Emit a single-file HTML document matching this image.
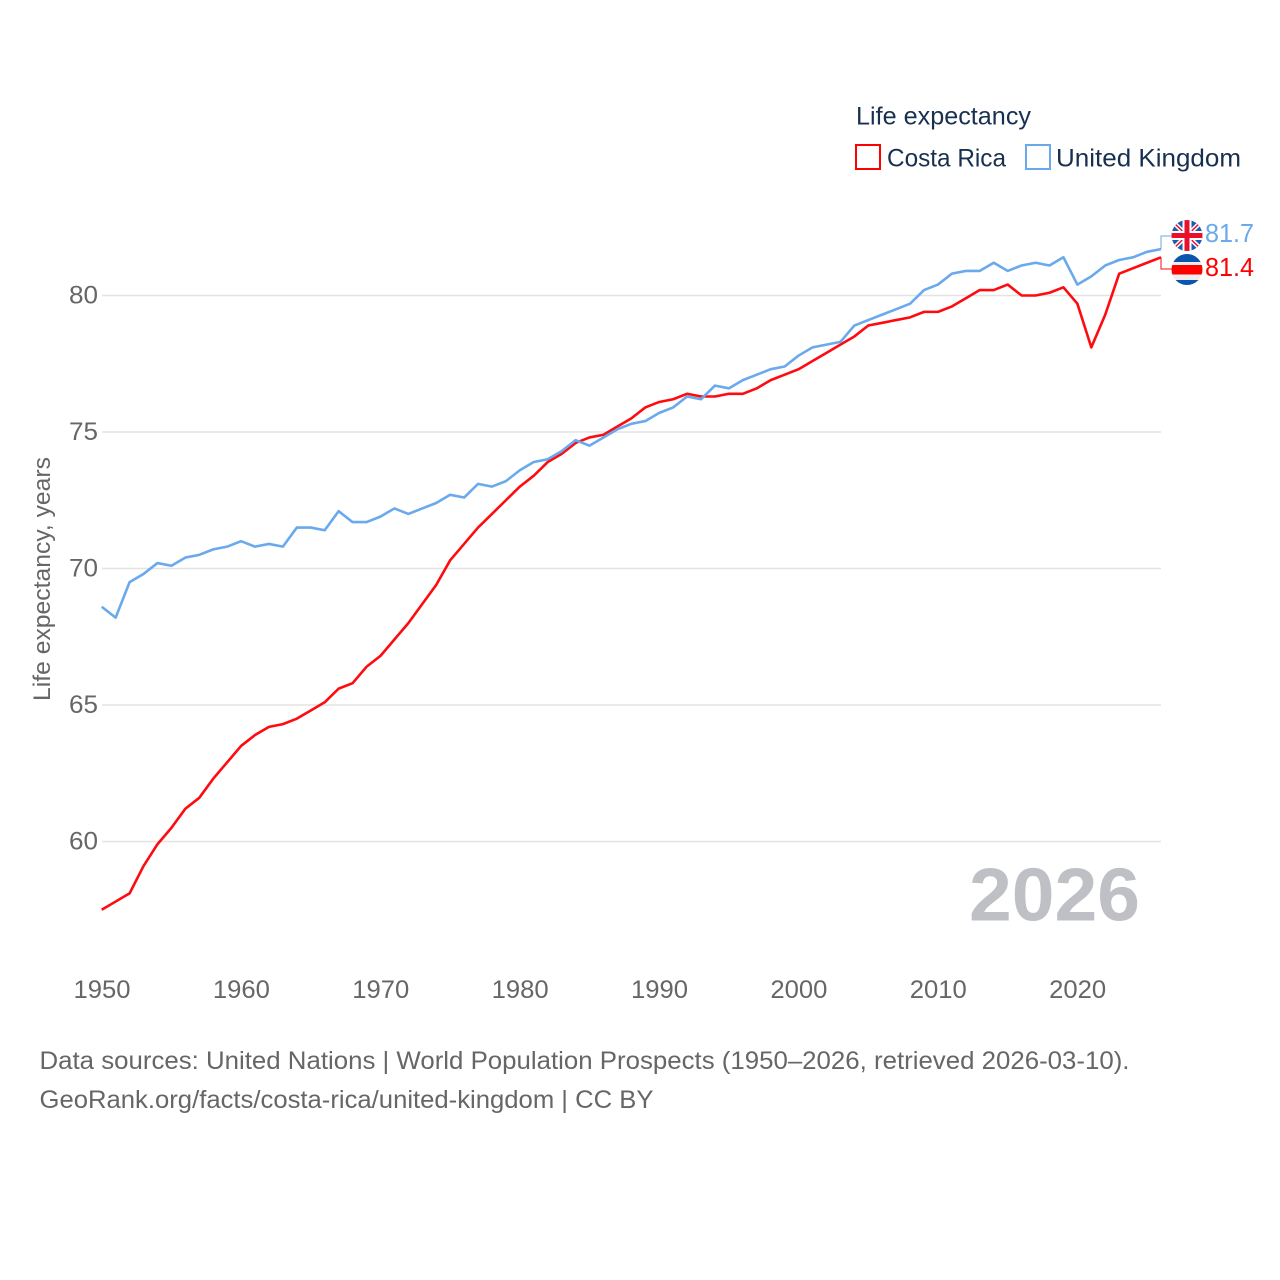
<!DOCTYPE html>
<html lang="en">
<head>
<meta charset="utf-8">
<title>Life expectancy: Costa Rica and United Kingdom</title>
<style>
html,body{margin:0;padding:0;background:#fff;width:1280px;height:1280px;overflow:hidden}
svg{display:block}
text{font-family:"Liberation Sans",sans-serif}
</style>
</head>
<body>
<svg id="chart" width="1280" height="1280" viewBox="0 0 1280 1280" xmlns="http://www.w3.org/2000/svg">
  <defs>
    <clipPath id="clip-uk"><circle cx="1187" cy="235.5" r="15.5"/></clipPath>
    <clipPath id="clip-cr"><circle cx="1187" cy="269.5" r="15.5"/></clipPath>
  </defs>
  <g id="grid"></g>
  <g id="yticks"></g>
  <g id="xticks"></g>
  <text transform="translate(50,701) rotate(-90)" font-size="24.5" fill="#666" textLength="244" lengthAdjust="spacingAndGlyphs">Life expectancy, years</text>

  <text x="1140" y="920.5" text-anchor="end" font-size="75" font-weight="700" fill="#bfc0c5" textLength="171" lengthAdjust="spacingAndGlyphs">2026</text>

  <g id="series"></g>

  <g>
    <text x="856" y="124.500" font-size="25" fill="#18304f" textLength="175" lengthAdjust="spacingAndGlyphs">Life expectancy</text>
    <rect x="856" y="145" width="24" height="24" fill="#fff" stroke="#ff0000" stroke-width="2"/>
    <text x="887" y="166.500" font-size="25" fill="#18304f" textLength="119" lengthAdjust="spacingAndGlyphs">Costa Rica</text>
    <rect x="1026" y="145" width="24" height="24" fill="#fff" stroke="#6aa9ec" stroke-width="2"/>
    <text x="1056" y="166.500" font-size="25" fill="#18304f" textLength="185" lengthAdjust="spacingAndGlyphs">United Kingdom</text>
  </g>

  <g id="connectors"></g>

  <g clip-path="url(#clip-uk)">
    <rect x="1171" y="220" width="32" height="31" fill="#1a5cb0"/>
    <path d="M1171 220L1203 251M1203 220L1171 251" stroke="#fff" stroke-width="4.500"/>
    <path d="M1171 220L1203 251M1203 220L1171 251" stroke="#e8112d" stroke-width="1.500"/>
    <path d="M1187 220V251M1171 235.500H1203" stroke="#fff" stroke-width="9"/>
    <path d="M1187 220V251M1171 235.500H1203" stroke="#e8112d" stroke-width="5"/>
  </g>
  <g clip-path="url(#clip-cr)">
    <rect x="1171" y="254" width="32" height="8" fill="#0a55ad"/>
    <rect x="1171" y="262" width="32" height="3" fill="#eeeeee"/>
    <rect x="1171" y="265" width="32" height="9.500" fill="#ff0000"/>
    <rect x="1171" y="274.500" width="32" height="5.500" fill="#eeeeee"/>
    <rect x="1171" y="280" width="32" height="5" fill="#0a55ad"/>
  </g>

  <text x="1205" y="242" font-size="25.500" fill="#6aa9ec" textLength="49" lengthAdjust="spacingAndGlyphs">81.7</text>
  <text x="1205" y="276" font-size="25.500" fill="#ff0000" textLength="49" lengthAdjust="spacingAndGlyphs">81.4</text>

  <text x="39.500" y="1069" font-size="25" fill="#666" textLength="1090" lengthAdjust="spacingAndGlyphs">Data sources: United Nations | World Population Prospects (1950–2026, retrieved 2026-03-10).</text>
  <text x="39.500" y="1108" font-size="25" fill="#666" textLength="614" lengthAdjust="spacingAndGlyphs">GeoRank.org/facts/costa-rica/united-kingdom | CC BY</text>
</svg>
<script>
const startYear = 1950;
const costaRica = [57.5,57.8,58.1,59.1,59.9,60.5,61.2,61.6,62.3,62.9,63.5,63.9,64.2,64.3,64.5,64.8,65.1,65.6,65.8,66.4,66.8,67.4,68.0,68.7,69.4,70.3,70.9,71.5,72.0,72.5,73.0,73.4,73.9,74.2,74.6,74.8,74.9,75.2,75.5,75.9,76.1,76.2,76.4,76.3,76.3,76.4,76.4,76.6,76.9,77.1,77.3,77.6,77.9,78.2,78.5,78.9,79.0,79.1,79.2,79.4,79.4,79.6,79.9,80.2,80.2,80.4,80.0,80.0,80.1,80.3,79.7,78.1,79.3,80.8,81.0,81.2,81.4];
const unitedKingdom = [68.6,68.2,69.5,69.8,70.2,70.1,70.4,70.5,70.7,70.8,71.0,70.8,70.9,70.8,71.5,71.5,71.4,72.1,71.7,71.7,71.9,72.2,72.0,72.2,72.4,72.7,72.6,73.1,73.0,73.2,73.6,73.9,74.0,74.3,74.7,74.5,74.8,75.1,75.3,75.4,75.7,75.9,76.3,76.2,76.7,76.6,76.9,77.1,77.3,77.4,77.8,78.1,78.2,78.3,78.9,79.1,79.3,79.5,79.7,80.2,80.4,80.8,80.9,80.9,81.2,80.9,81.1,81.2,81.1,81.4,80.4,80.7,81.1,81.3,81.4,81.6,81.7];
const yTickValues = [60,65,70,75,80];
const xTickValues = [1950,1960,1970,1980,1990,2000,2010,2020];

const NS = 'http://www.w3.org/2000/svg';
const xScale = function (year) { return 101.7 + (year - 1950) * (1161 - 101.7) / 76; };
const yScale = function (value) { return 841.5 - (value - 60) * (841.5 - 295.5) / 20; };

const gridGroup = document.getElementById('grid');
const yTickGroup = document.getElementById('yticks');
const xTickGroup = document.getElementById('xticks');
const seriesGroup = document.getElementById('series');
const connectorGroup = document.getElementById('connectors');

yTickValues.forEach(function (tick) {
  const line = document.createElementNS(NS, 'line');
  line.setAttribute('x1', 102);
  line.setAttribute('x2', 1161);
  line.setAttribute('y1', yScale(tick));
  line.setAttribute('y2', yScale(tick));
  line.setAttribute('stroke', '#e3e3e3');
  line.setAttribute('stroke-width', 1.5);
  
  
  gridGroup.appendChild(line);

  const label = document.createElementNS(NS, 'text');
  label.setAttribute('x', 98);
  label.setAttribute('y', yScale(tick) + 8);
  label.setAttribute('text-anchor', 'end');
  label.setAttribute('font-size', 25);
  label.setAttribute('fill', '#666');
  label.setAttribute('textLength', 29);
  label.setAttribute('lengthAdjust', 'spacingAndGlyphs');
  
  
  label.textContent = tick;
  yTickGroup.appendChild(label);
});

xTickValues.forEach(function (tick) {
  const label = document.createElementNS(NS, 'text');
  label.setAttribute('x', xScale(tick) + 0.3);
  label.setAttribute('y', 998);
  label.setAttribute('text-anchor', 'middle');
  label.setAttribute('font-size', 25);
  label.setAttribute('fill', '#666');
  label.setAttribute('textLength', 57);
  label.setAttribute('lengthAdjust', 'spacingAndGlyphs');
  
  
  label.textContent = tick;
  xTickGroup.appendChild(label);
});

function linePoints(values) {
  return values.map(function (value, i) {
    return xScale(startYear + i).toFixed(2) + ',' + yScale(value).toFixed(2);
  }).join(' ');
}

const ukLine = document.createElementNS(NS, 'polyline');
ukLine.setAttribute('points', linePoints(unitedKingdom));
ukLine.setAttribute('fill', 'none');
ukLine.setAttribute('stroke', '#6aa9ec');
ukLine.setAttribute('stroke-width', 2.6);
ukLine.setAttribute('stroke-linejoin', 'round');



const crLine = document.createElementNS(NS, 'polyline');
crLine.setAttribute('points', linePoints(costaRica));
crLine.setAttribute('fill', 'none');
crLine.setAttribute('stroke', '#ff0a0f');
crLine.setAttribute('stroke-width', 2.6);
crLine.setAttribute('stroke-linejoin', 'round');



seriesGroup.appendChild(crLine);
seriesGroup.appendChild(ukLine);

const lastYear = startYear + costaRica.length - 1;
const ukEnd = yScale(unitedKingdom[unitedKingdom.length - 1]);
const crEnd = yScale(costaRica[costaRica.length - 1]);

const ukConnector = document.createElementNS(NS, 'path');
ukConnector.setAttribute('d', 'M' + xScale(lastYear) + ' ' + ukEnd + 'V236H1172');
ukConnector.setAttribute('fill', 'none');
ukConnector.setAttribute('stroke', '#6aa9ec');
ukConnector.setAttribute('stroke-width', 1);


connectorGroup.appendChild(ukConnector);

const crConnector = document.createElementNS(NS, 'path');
crConnector.setAttribute('d', 'M' + xScale(lastYear) + ' ' + crEnd + 'V269H1172');
crConnector.setAttribute('fill', 'none');
crConnector.setAttribute('stroke', '#ff0a0f');
crConnector.setAttribute('stroke-width', 1);


connectorGroup.appendChild(crConnector);
</script>
</body>
</html>
